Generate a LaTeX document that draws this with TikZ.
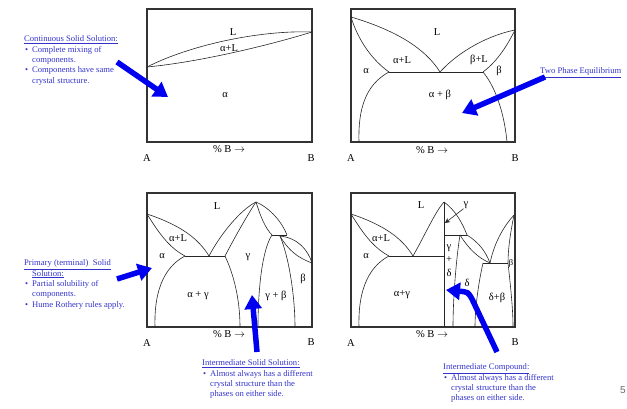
\documentclass[tikz,border=0pt]{standalone}
\usepackage{fontspec}
\setmainfont{Liberation Serif}
\newfontfamily\pagefont{Liberation Sans}
\usetikzlibrary{arrows.meta}

\definecolor{noteblue}{RGB}{51,51,204}
\definecolor{arrowblue}{RGB}{0,0,240}
\newcommand{\bul}{\hspace*{1pt}\makebox[7pt][l]{\textbullet}}
\newcommand{\ind}{\hspace*{8pt}}

\begin{document}
\begin{tikzpicture}[x=1pt, y=-1pt,
  frame/.style={draw=black!80, line width=1.1pt},
  phase/.style={draw=black!85, line width=0.6pt},
  lbl/.style={font=\fontsize{10.5}{12}\selectfont, inner sep=0pt},
  note/.style={font=\fontsize{8.6}{10.4}\selectfont, text=noteblue,
    align=left, anchor=north west, inner sep=0pt},
  bigarrow/.style={draw=arrowblue, line width=5.5pt,
    -{Triangle[length=14pt,width=17pt]}}]
  \useasboundingbox (0,0) rectangle (627,409);

  % panel 1: continuous solid solution
  \draw[frame] (147,9) rectangle (312,142);
  \coordinate (m1A) at (147,67);
  \coordinate (m1B) at (312,32);
  \draw[phase] (m1A) .. controls (190,45) and (260,30) .. (m1B);
  \draw[phase] (m1A) .. controls (200,62) and (270,45) .. (m1B);
  \node[lbl] (p1L)  at (233,32) {L};
  \node[lbl] (p1aL) at (229,48) {α+L};
  \node[lbl] (p1a)  at (225,95) {α};
  \node[lbl] (p1x)  at (229,149) {\% B $\rightarrow$};
  \node[lbl] (p1A)  at (147,158) {A};
  \node[lbl] (p1B)  at (311,158) {B};

  % panel 2: eutectic, two phase equilibrium
  \draw[frame] (351,9) rectangle (515,142);
  \coordinate (m2A) at (351,17);
  \coordinate (m2B) at (515,30);
  \coordinate (e2)  at (440,72);
  \coordinate (s2a) at (389,72);
  \coordinate (s2b) at (483,72);
  \draw[phase] (s2a) -- (s2b);
  \draw[phase] (m2A) .. controls (395,30) and (425,48) .. (e2);
  \draw[phase] (m2A) .. controls (358,40) and (372,60) .. (s2a);
  \draw[phase] (e2) .. controls (460,50) and (490,35) .. (m2B);
  \draw[phase] (m2B) .. controls (505,50) and (495,63) .. (s2b);
  \draw[phase] (s2a) .. controls (365,85) and (358,110) .. (359,142);
  \draw[phase] (s2b) .. controls (498,90) and (505,120) .. (507,142);
  \node[lbl] (p2L)  at (437,32) {L};
  \node[lbl] (p2aL) at (402,60) {α+L};
  \node[lbl] (p2bL) at (479,60) {β+L};
  \node[lbl] (p2a)  at (366,71) {α};
  \node[lbl] (p2b)  at (499,71) {β};
  \node[lbl] (p2ab) at (440,95) {α + β};
  \node[lbl] (p2x)  at (432,150) {\% B $\rightarrow$};
  \node[lbl] (p2A)  at (351,158) {A};
  \node[lbl] (p2B)  at (515,158) {B};

  % panel 3: intermediate solid solution
  \draw[frame] (147,193) rectangle (312,327);
  \coordinate (m3A) at (147,214);
  \coordinate (e3)  at (209,256);
  \coordinate (s3a) at (185,256);
  \coordinate (s3g) at (225,256);
  \coordinate (top3) at (256,202);
  \coordinate (r3a) at (272,235);
  \coordinate (r3e) at (280,236);
  \coordinate (r3b) at (287,235);
  \coordinate (m3B) at (312,263);
  \draw[phase] (s3a) -- (s3g);
  \draw[phase] (m3A) .. controls (180,225) and (198,238) .. (e3);
  \draw[phase] (m3A) .. controls (160,235) and (170,248) .. (s3a);
  \draw[phase] (s3a) .. controls (162,268) and (154,295) .. (155,327);
  \draw[phase] (e3) .. controls (220,235) and (240,210) .. (top3);
  \draw[phase] (s3g) .. controls (236,235) and (248,214) .. (top3);
  \draw[phase] (s3g) .. controls (234,275) and (240,300) .. (240,327);
  \draw[phase] (top3) .. controls (260,215) and (265,228) .. (r3a);
  \draw[phase] (top3) .. controls (270,208) and (282,222) .. (r3b);
  \draw[phase] (r3a) -- (r3b);
  \draw[phase] (r3e) .. controls (298,238) and (308,250) .. (m3B);
  \draw[phase] (r3e) .. controls (288,250) and (298,258) .. (m3B);
  \draw[phase] (r3a) .. controls (262,250) and (258,290) .. (258,327);
  \draw[phase] (r3e) .. controls (290,260) and (295,300) .. (295,327);
  \node[lbl] (p3L)  at (217,206) {L};
  \node[lbl] (p3aL) at (178,238) {α+L};
  \node[lbl] (p3a)  at (162,256) {α};
  \node[lbl] (p3g)  at (248,257) {γ};
  \node[lbl] (p3ag) at (198,296) {α + γ};
  \node[lbl] (p3gb) at (276,296) {γ + β};
  \node[lbl] (p3b)  at (303,279) {β};
  \node[lbl] (p3x)  at (229,334) {\% B $\rightarrow$};
  \node[lbl] (p3A)  at (147,343) {A};
  \node[lbl] (p3B)  at (311,342) {B};

  % panel 4: intermediate compound
  \draw[frame] (351,193) rectangle (515,327);
  \coordinate (m4A) at (351,214);
  \coordinate (e4)  at (413,256);
  \coordinate (s4a) at (389,256);
  \coordinate (top4) at (444,202);
  \coordinate (bot4) at (444,327);
  \coordinate (v4)  at (444,256);
  \coordinate (h4a) at (444,235);
  \coordinate (h4b) at (467,235);
  \coordinate (h4d) at (460,235);
  \coordinate (e4b) at (490,263);
  \coordinate (s4d) at (483,263);
  \coordinate (s4b) at (508,263);
  \coordinate (m4B) at (514,215);
  \draw[phase] (top4) -- (bot4);
  \draw[phase] (s4a) -- (v4);
  \draw[phase] (h4a) -- (h4b);
  \draw[phase] (s4d) -- (s4b);
  \draw[phase] (m4A) .. controls (384,225) and (402,238) .. (e4);
  \draw[phase] (m4A) .. controls (364,235) and (374,248) .. (s4a);
  \draw[phase] (s4a) .. controls (366,268) and (358,295) .. (359,327);
  \draw[phase] (e4) .. controls (425,235) and (435,212) .. (top4);
  \draw[phase] (top4) .. controls (455,210) and (462,222) .. (h4b);
  \draw[phase] (h4b) .. controls (478,242) and (485,250) .. (e4b);
  \draw[phase] (h4d) .. controls (468,248) and (478,258) .. (e4b);
  \draw[phase] (h4d) .. controls (456,260) and (453,300) .. (453,327);
  \draw[phase] (e4b) .. controls (495,240) and (505,225) .. (m4B);
  \draw[phase] (m4B) .. controls (510,235) and (508,250) .. (s4b);
  \draw[phase] (s4d) .. controls (478,285) and (475,310) .. (475,327);
  \draw[phase] (s4b) .. controls (511,290) and (513,310) .. (513,327);
  \node[lbl] (p4L)  at (421,205) {L};
  \node[lbl] (p4aL) at (381,238) {α+L};
  \node[lbl] (p4a)  at (366,256) {α};
  \node[lbl] (p4ag) at (402,295) {α+γ};
  \node[lbl] (p4g1) at (449,248) {γ};
  \node[lbl] (p4pl) at (449,260) {+};
  \node[lbl] (p4d1) at (449,273) {δ};
  \node[lbl] (p4d)  at (467,283) {δ};
  \node[lbl] (p4db) at (497,298) {δ+β};
  \node[lbl, font=\fontsize{8.5}{10}\selectfont] (p4b) at (511,263) {β};
  \node[lbl] (p4g)  at (466,205) {γ};
  \coordinate (p4gtip) at (445,223);
  \draw[phase, -{Stealth[length=5pt,width=5pt]}] (p4g.south west) -- (p4gtip);
  \node[lbl] (p4x)  at (432,334) {\% B $\rightarrow$};
  \node[lbl] (p4A)  at (351,343) {A};
  \node[lbl] (p4B)  at (515,342) {B};

  % notes
  \node[note] (n1) at (24,35.5) {\underline{Continuous Solid Solution:}\\
    \bul Complete mixing of\\ \ind components.\\
    \bul Components have same\\ \ind crystal structure.};
  \node[note] (n2) at (540,67.5) {\underline{Two Phase Equilibrium}};
  \node[note] (n3) at (24,259.5) {\underline{Primary (terminal)\ \ Solid}\\
    \ind\underline{Solution:}\\
    \bul Partial solubility of\\ \ind components.\\
    \bul Hume Rothery rules apply.};
  \node[note] (n4) at (202,359.5) {\underline{Intermediate Solid Solution:}\\
    \bul Almost always has a different\\ \ind crystal structure than the\\
    \ind phases on either side.};
  \node[note] (n5) at (443,363.5) {\underline{Intermediate Compound:}\\
    \bul Almost always has a different\\ \ind crystal structure than the\\
    \ind phases on either side.};
  \node[font=\pagefont\fontsize{10}{12}\selectfont, text=black!60, inner sep=0pt]
    (pg) at (623,390) {5};

  % blue arrows
  \coordinate (w1) at (117,62);  \coordinate (t1) at (168,97);
  \coordinate (w2) at (545,77);  \coordinate (t2) at (462,113);
  \coordinate (w3) at (117,279); \coordinate (t3) at (152,268);
  \coordinate (w4) at (257,352); \coordinate (t4) at (252,295);
  \coordinate (w5) at (497,352); \coordinate (k5) at (472,299);
  \coordinate (t5) at (446,290);
  \draw[bigarrow] (w1) -- (t1);
  \draw[bigarrow] (w2) -- (t2);
  \draw[bigarrow] (w3) -- (t3);
  \draw[bigarrow] (w4) -- (t4);
  \draw[bigarrow] (w5) -- (k5) .. controls (468,292) .. (t5);
\end{tikzpicture}
\end{document}
